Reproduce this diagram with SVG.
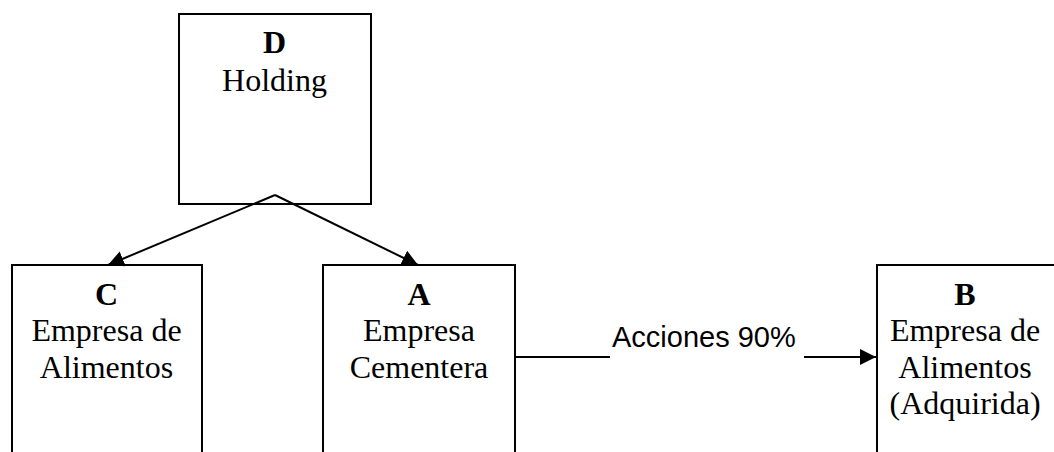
<svg xmlns="http://www.w3.org/2000/svg" width="1054" height="452" viewBox="0 0 1054 452">
  <style>
    .box { fill: #fff; stroke: #000; stroke-width: 2; }
    .t { font-family: "Liberation Serif", "Times New Roman", serif; font-size: 32px; fill: #000; text-anchor: middle; }
    .b { font-weight: bold; }
    .lbl { font-family: "Liberation Sans", Arial, sans-serif; font-size: 29px; fill: #000; }
    .edge { fill: none; stroke: #000; stroke-width: 2; }
  </style>
  <defs>
    <marker id="arrow" markerUnits="userSpaceOnUse" markerWidth="17" markerHeight="16" refX="16" refY="8" orient="auto">
      <path d="M0,0 L16,8 L0,16 Z" fill="#000"/>
    </marker>
  </defs>
  <rect width="1054" height="452" fill="#fff"/>

  <g id="node-d">
    <rect class="box" x="179" y="14" width="192" height="190"/>
    <text class="t b" x="274.5" y="53">D</text>
    <text class="t" x="274.5" y="91">Holding</text>
  </g>

  <g id="node-c">
    <rect class="box" x="12" y="265" width="190" height="200"/>
    <text class="t b" x="106.5" y="305">C</text>
    <text class="t" x="106.5" y="341">Empresa de</text>
    <text class="t" x="106.5" y="378">Alimentos</text>
  </g>

  <g id="node-a">
    <rect class="box" x="323" y="265" width="192" height="200"/>
    <text class="t b" x="419" y="305">A</text>
    <text class="t" x="419" y="341">Empresa</text>
    <text class="t" x="419" y="378">Cementera</text>
  </g>

  <g id="node-b">
    <rect class="box" x="877" y="265" width="200" height="200"/>
    <text class="t b" x="965" y="305">B</text>
    <text class="t" x="965" y="341">Empresa de</text>
    <text class="t" x="965" y="378">Alimentos</text>
    <text class="t" x="965" y="414">(Adquirida)</text>
  </g>

  <g id="connectors">
    <line class="edge" x1="275" y1="195" x2="108" y2="265" marker-end="url(#arrow)"/>
    <line class="edge" x1="275" y1="195" x2="418" y2="265" marker-end="url(#arrow)"/>
    <line class="edge" x1="515" y1="357" x2="610" y2="357"/>
    <line class="edge" x1="804" y1="357" x2="876" y2="357" marker-end="url(#arrow)"/>
    <text class="lbl" x="612" y="347">Acciones 90%</text>
  </g>
</svg>
